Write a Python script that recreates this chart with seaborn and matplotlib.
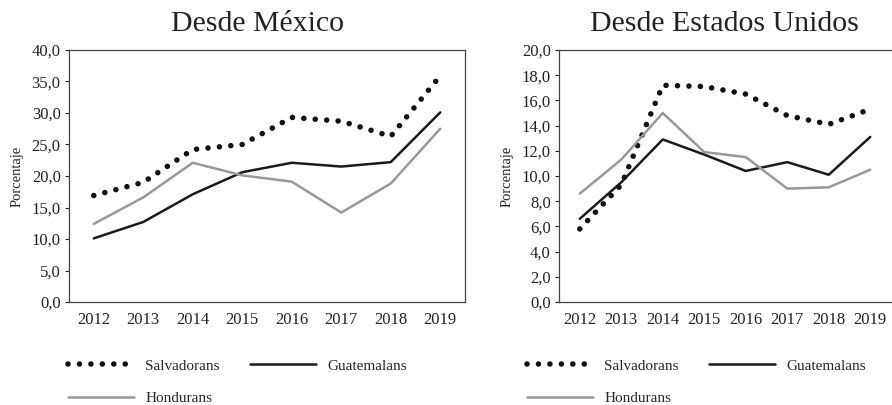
import numpy as np
import pandas as pd
import matplotlib
matplotlib.use("Agg")
import matplotlib.pyplot as plt
from matplotlib.ticker import FuncFormatter, MultipleLocator
import seaborn as sns

# datos
years = [2012, 2013, 2014, 2015, 2016, 2017, 2018, 2019]
series = ["Salvadorans", "Guatemalans", "Hondurans"]

mex_salvadorans = [16.9, 19.0, 24.2, 25.0, 29.3, 28.7, 26.3, 35.9]
mex_guatemalans = [10.1, 12.7, 17.1, 20.6, 22.1, 21.5, 22.2, 30.1]
mex_hondurans = [12.4, 16.6, 22.1, 20.1, 19.1, 14.2, 18.8, 27.5]

usa_salvadorans = [5.8, 9.3, 17.2, 17.1, 16.5, 14.8, 14.1, 15.3]
usa_guatemalans = [6.6, 9.5, 12.9, 11.7, 10.4, 11.1, 10.1, 13.1]
usa_hondurans = [8.6, 11.3, 15.0, 11.9, 11.5, 9.0, 9.1, 10.5]

sns.set_style("white")
plt.rcParams["font.family"] = ["Liberation Serif", "DejaVu Serif"]

styles = {
    "Salvadorans": dict(color="#111111", linewidth=4.0, linestyle=(0, (0.01, 2.05)),
                        dash_capstyle="round"),
    "Guatemalans": dict(color="#1a1a1a", linewidth=1.8, linestyle="-"),
    "Hondurans": dict(color="#999999", linewidth=1.8, linestyle="-"),
}

fig = plt.figure(figsize=(8.92, 4.05), dpi=100)
ax1 = fig.add_axes([69 / 892, 1 - 302 / 405, 396 / 892, 252 / 405])
ax2 = fig.add_axes([559 / 892, 1 - 302 / 405, 332 / 892, 252 / 405])

panels = [
    (ax1, "Desde México", [mex_salvadorans, mex_guatemalans, mex_hondurans], 40, 5, 0.475),
    (ax2, "Desde Estados Unidos", [usa_salvadorans, usa_guatemalans, usa_hondurans], 20, 2, 0.497),
]

comma = FuncFormatter(lambda v, p: f"{v:.1f}".replace(".", ","))

for ax, title, vals, ymax, step, tx in panels:
    df = pd.DataFrame({"year": years * 3,
                       "valor": np.concatenate(vals),
                       "grupo": np.repeat(series, len(years))})
    for name in series:
        sub = df[df["grupo"] == name]
        sns.lineplot(data=sub, x="year", y="valor", ax=ax, label=name, **styles[name])
    ax.set_xlim(2011.5, 2019.5)
    ax.set_ylim(0, ymax)
    ax.yaxis.set_major_locator(MultipleLocator(step))
    ax.yaxis.set_major_formatter(comma)
    ax.set_xticks(years)
    ax.tick_params(axis="both", labelsize=12, colors="#222222", length=0, pad=7)
    ax.tick_params(axis="y", length=3, width=0.8, direction="out", left=True, pad=3)
    for s in ax.spines.values():
        s.set_color("#444444")
        s.set_linewidth(0.9)
    ax.set_xlabel("")
    ax.set_ylabel("Porcentaje", fontsize=10.5, color="#222222", labelpad=6)
    ax.set_title(title, fontsize=21.5, color="#222222", pad=14, x=tx)
    ax.grid(False)
    ax.legend_.remove()

# el panel derecho queda cortado en el borde
ax2.spines["right"].set_visible(False)

# leyendas debajo de cada panel (orden por columnas: S, H | G)
for ax, x0 in [(ax1, 68 / 892), (ax2, 527 / 892)]:
    handles, labels = ax.get_legend_handles_labels()
    order = [0, 2, 1]
    fig.legend([handles[i] for i in order], [labels[i] for i in order],
               loc="upper left", bbox_to_anchor=(x0, 1 - 359 / 405),
               ncol=2, frameon=False, fontsize=11, handlelength=4.3, handletextpad=0.75,
               columnspacing=2.0, labelspacing=1.25, borderaxespad=0, borderpad=0)

fig.savefig("out.png", dpi=100)
